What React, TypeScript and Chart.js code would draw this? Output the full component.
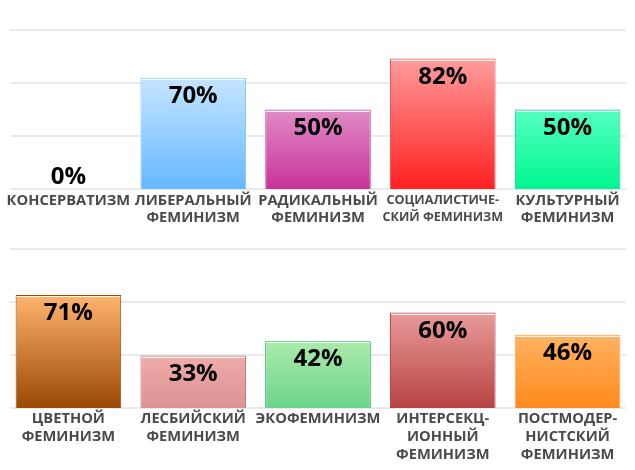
import React, { useEffect, useRef } from "react";
import { Chart, registerables } from "chart.js";

Chart.register(...registerables);

// ---------- data ----------
const topLabels: (string | string[])[] = [
  "КОНСЕРВАТИЗМ",
  ["ЛИБЕРАЛЬНЫЙ", "ФЕМИНИЗМ"],
  ["РАДИКАЛЬНЫЙ", "ФЕМИНИЗМ"],
  ["СОЦИАЛИСТИЧЕ-", "СКИЙ ФЕМИНИЗМ"],
  ["КУЛЬТУРНЫЙ", "ФЕМИНИЗМ"],
];
const topValues = [0, 70, 50, 82, 50];
const topGradTop = ["#d8d8d8", "#c6e5ff", "#e08bc6", "#ff9c9c", "#55ffc2"];
const topGradBottom = ["#b0b0b0", "#66b8ff", "#c7339a", "#ff2020", "#00f78f"];
const topBorders = ["#bbbbbb", "#86c8ff", "#cc48aa", "#ff5050", "#00cc78"];

const bottomLabels: (string | string[])[] = [
  ["ЦВЕТНОЙ", "ФЕМИНИЗМ"],
  ["ЛЕСБИЙСКИЙ", "ФЕМИНИЗМ"],
  "ЭКОФЕМИНИЗМ",
  ["ИНТЕРСЕКЦ-", "ИОННЫЙ", "ФЕМИНИЗМ"],
  ["ПОСТМОДЕР-", "НИСТСКИЙ", "ФЕМИНИЗМ"],
];
const bottomValues = [71, 33, 42, 60, 46];
const bottomGradTop = ["#ffb46e", "#f0abab", "#abeaab", "#e99b9b", "#ffb262"];
const bottomGradBottom = ["#9a4804", "#db9292", "#6bd68a", "#b84343", "#ff8a1c"];
const bottomBorders = ["#9c4a00", "#c07c7c", "#00b050", "#c84040", "#ffa552"];

const yMin = 0;
const yMax = 100;
const yStep = 100 / 3;

const FONT = '"Open Sans", "DejaVu Sans", sans-serif';

// ---------- plugins ----------
const gridPlugin = {
  id: "customGrid",
  beforeDatasetsDraw(chart: any) {
    const y = chart.scales.y;
    const area = chart.chartArea;
    const ctx = chart.ctx;
    ctx.save();
    ctx.strokeStyle = "#eaeaea";
    ctx.lineWidth = 2;
    for (const t of y.ticks) {
      const py = Math.round(y.getPixelForValue(t.value));
      ctx.beginPath();
      ctx.moveTo(area.left + 4, py);
      ctx.lineTo(area.right - 4, py);
      ctx.stroke();
    }
    ctx.restore();
  },
};

const valuePlugin = {
  id: "valueLabels",
  afterDatasetsDraw(chart: any) {
    const ctx = chart.ctx;
    const meta = chart.getDatasetMeta(0);
    const data = chart.data.datasets[0].data;
    ctx.save();
    meta.data.forEach((el: any, i: number) => {
      const v = data[i];
      const w = el.width;
      if (v > 0) {
        ctx.strokeStyle = "rgba(255,255,255,0.9)";
        ctx.lineWidth = 1;
        ctx.beginPath();
        ctx.moveTo(el.x - w / 2 + 1, Math.round(el.y) + 1.5);
        ctx.lineTo(el.x + w / 2 - 1, Math.round(el.y) + 1.5);
        ctx.stroke();
      }
      ctx.fillStyle = "#000";
      ctx.font = `bold 24px ${FONT}`;
      ctx.textAlign = "center";
      ctx.textBaseline = "alphabetic";
      const ty = v > 0 ? el.y + 25 : el.base - 5;
      ctx.fillText(`${v}%`, el.x, ty);
    });
    ctx.restore();
  },
};

type PanelProps = {
  labels: (string | string[])[];
  values: number[];
  gradTop: string[];
  gradBottom: string[];
  borders: string[];
  top: number;
  height: number;
  axisHeight: number;
  lineHeight: number;
  tickPadding: number;
  smallIndex: number;
};

function Panel(p: PanelProps) {
  const ref = useRef<HTMLCanvasElement | null>(null);
  useEffect(() => {
    if (!ref.current) return;
    const chart = new Chart(ref.current, {
      type: "bar",
      data: {
        labels: p.labels,
        datasets: [
          {
            data: p.values,
            backgroundColor: (c: any) => {
              const chart = c.chart;
              const i = c.dataIndex ?? 0;
              const ys = chart.scales?.y;
              if (!chart.chartArea || !ys || c.type !== "data") return p.gradBottom[i];
              const t = ys.getPixelForValue(c.raw);
              const b = ys.getPixelForValue(0);
              if (b - t < 1) return p.gradBottom[i];
              const g = chart.ctx.createLinearGradient(0, t, 0, b);
              g.addColorStop(0, p.gradTop[i]);
              g.addColorStop(1, p.gradBottom[i]);
              return g;
            },
            borderColor: p.borders,
            borderWidth: 1,
            borderSkipped: "bottom",
            barPercentage: 0.846,
            categoryPercentage: 1,
          },
        ],
      },
      options: {
        animation: false,
        responsive: false,
        maintainAspectRatio: false,
        devicePixelRatio: 1,
        layout: { padding: { top: 30, left: 6, right: 5, bottom: 0 } },
        plugins: { legend: { display: false }, tooltip: { enabled: false } },
        scales: {
          x: {
            grid: { display: false, drawTicks: false },
            border: { display: false },
            ticks: {
              autoSkip: false,
              maxRotation: 0,
              minRotation: 0,
              padding: p.tickPadding,
              color: "#4a4a4a",
              font: (ctx: any) => ({
                family: FONT,
                weight: "bold",
                size: ctx.index === p.smallIndex ? 12.6 : 14.7,
                lineHeight: `${p.lineHeight}px`,
              }),
            },
            afterFit: (scale: any) => {
              scale.height = p.axisHeight;
            },
          },
          y: {
            display: false,
            min: yMin,
            max: yMax,
            ticks: { stepSize: yStep },
          },
        },
      },
      plugins: [gridPlugin, valuePlugin],
    } as any);
    return () => chart.destroy();
  }, []);
  return (
    <canvas
      ref={ref}
      width={635}
      height={p.height}
      style={{ position: "absolute", left: 0, top: p.top, width: 635, height: p.height }}
    />
  );
}

export default function App() {
  return (
    <div style={{ position: "absolute", left: 0, top: 0, width: 635, height: 470, background: "#fff" }}>
      <Panel
        labels={topLabels}
        values={topValues}
        gradTop={topGradTop}
        gradBottom={topGradBottom}
        borders={topBorders}
        top={0}
        height={235}
        axisHeight={46}
        lineHeight={17}
        tickPadding={3}
        smallIndex={3}
      />
      <Panel
        labels={bottomLabels}
        values={bottomValues}
        gradTop={bottomGradTop}
        gradBottom={bottomGradBottom}
        borders={bottomBorders}
        top={219}
        height={251}
        axisHeight={62}
        lineHeight={18}
        tickPadding={2}
        smallIndex={-1}
      />
    </div>
  );
}
